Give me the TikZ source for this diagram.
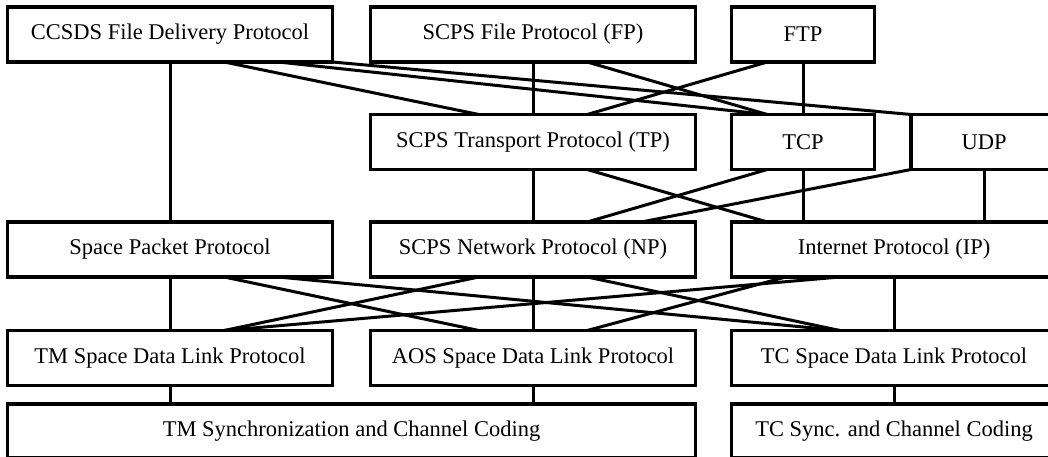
\documentclass[tikz,border=0pt]{standalone}
\usepackage{fontspec}
\setmainfont{Liberation Serif}
\usetikzlibrary{calc}

\begin{document}
\begin{tikzpicture}[x=1pt,y=-1pt,
    layer/.style={draw,rectangle,line width=3.2pt,outer sep=0pt,inner sep=0pt,
        minimum height=55pt,font=\fontsize{22.5}{27}\selectfont},
    wide/.style={layer,minimum width=325pt},
    narrow/.style={layer,minimum width=143pt},
    link/.style={line width=3pt}]
\clip (0,0) rectangle (1048,457);
% application / transport / network / link / coding
\node [wide] (cfdp) at (170,34.5) {CCSDS File Delivery Protocol};
\node [wide] (fp) at (533,34.5) {SCPS File Protocol (FP)};
\node [narrow] (ftp) at (803,34.5) {FTP};
\node [wide] (tp) at (533,142) {SCPS Transport Protocol (TP)};
\node [narrow] (tcp) at (803,142) {TCP};
\node [layer,minimum width=146pt] (udp) at (984,142) {UDP};
\node [wide] (spp) at (170,249.5) {Space Packet Protocol};
\node [wide] (np) at (533,249.5) {SCPS Network Protocol (NP)};
\node [wide] (ip) at (894,249.5) {Internet Protocol (IP)};
\node [wide] (tm) at (170,358) {TM Space Data Link Protocol};
\node [wide] (aos) at (533,358) {AOS Space Data Link Protocol};
\node [wide] (tc) at (894,358) {TC Space Data Link Protocol};
\node [layer,minimum width=688pt,minimum height=54pt] (tmsync) at (351.5,431) {TM Synchronization and Channel Coding};
\node [wide,minimum height=54pt] (tcsync) at (894,431) {TC Sync. and Channel Coding};

\draw [link] (cfdp.south) -- (spp.north);
\draw [link] ($(cfdp.south west)!0.6667!(cfdp.south east)$) -- ($(tp.north west)!0.3333!(tp.north east)$);
\draw [link] ($(cfdp.south west)!0.8333!(cfdp.south east)$) -- ($(tcp.north west)!0.25!(tcp.north east)$);
\draw [link] (cfdp.south east) -- (udp.north west);
\draw [link] (fp.south) -- (tp.north);
\draw [link] ($(fp.south west)!0.6667!(fp.south east)$) -- ($(tcp.north west)!0.25!(tcp.north east)$);
\draw [link] ($(ftp.south west)!0.25!(ftp.south east)$) -- ($(tp.north west)!0.6667!(tp.north east)$);
\draw [link] (ftp.south) -- (tcp.north);

\draw [link] (tp.south) -- (np.north);
\draw [link] ($(tp.south west)!0.6667!(tp.south east)$) -- ($(ip.north west)!0.11!(ip.north east)$);
\draw [link] ($(tcp.south west)!0.25!(tcp.south east)$) -- ($(np.north west)!0.6667!(np.north east)$);
\draw [link] (tcp.south) -- (tcp.south |- ip.north);
\draw [link] (udp.south west) -- ($(np.north west)!0.8333!(np.north east)$);
\draw [link] (udp.south) -- (udp.south |- ip.north);

\draw [link] (spp.south) -- (tm.north);
\draw [link] ($(spp.south west)!0.6667!(spp.south east)$) -- ($(aos.north west)!0.3333!(aos.north east)$);
\draw [link] ($(spp.south west)!0.8333!(spp.south east)$) -- ($(tc.north west)!0.3333!(tc.north east)$);
\draw [link] ($(np.south west)!0.3333!(np.south east)$) -- ($(tm.north west)!0.6667!(tm.north east)$);
\draw [link] (np.south) -- (aos.north);
\draw [link] ($(np.south west)!0.6667!(np.south east)$) -- ($(tc.north west)!0.3333!(tc.north east)$);
\draw [link] ($(ip.south west)!0.1667!(ip.south east)$) -- ($(aos.north west)!0.6667!(aos.north east)$);
\draw [link] ($(ip.south west)!0.3333!(ip.south east)$) -- ($(tm.north west)!0.6667!(tm.north east)$);
\draw [link] (ip.south) -- (tc.north);

\draw [link] (tm.south) -- (tm.south |- tmsync.north);
\draw [link] (aos.south) -- (aos.south |- tmsync.north);
\draw [link] (tc.south) -- (tcsync.north);
\end{tikzpicture}
\end{document}
